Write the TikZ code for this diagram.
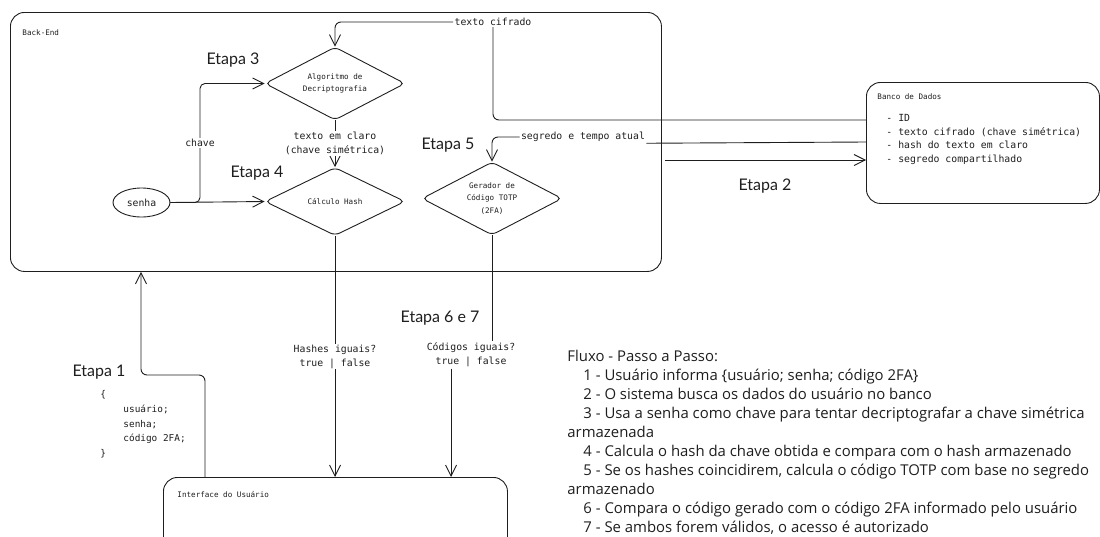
\documentclass[tikz,border=0pt]{standalone}
\usepackage{fontspec}
\setmainfont{Lato}
\setmonofont{DejaVu Sans Mono}
\newfontfamily\fluxfont{Open Sans}
\usetikzlibrary{arrows.meta,shapes.geometric}
\definecolor{ink}{HTML}{1E1E1E}
\begin{document}
\begin{tikzpicture}[x=1pt,y=-1pt,line width=0.9pt,color=ink,
  arr/.style={-{Straight Barb[length=11pt,width=11pt,line width=0.9pt]}},
  box/.style={draw=ink,rounded corners=14pt,anchor=north west,inner sep=0pt},
  dia/.style={draw=ink,shape=diamond,rounded corners=5pt,aspect=2,minimum width=140pt,
    minimum height=73pt,inner sep=0pt,align=center,text=ink,font=\ttfamily\fontsize{7.6}{12.5}\selectfont},
  small/.style={text=ink,inner sep=0pt,font=\ttfamily\fontsize{7.6}{10}\selectfont},
  lab/.style={text=ink,inner sep=1pt,align=center,font=\ttfamily\fontsize{9.8}{14}\selectfont},
  etapa/.style={text=ink,inner sep=0pt,font=\fontsize{16}{18}\selectfont},
  flux/.style={text=ink,inner sep=0pt,anchor=base west,font=\fluxfont\fontsize{14.9}{18}\selectfont}]
\useasboundingbox (0,0) rectangle (1100,536);
\clip (0,0) rectangle (1100,536);

% containers
\node[box,minimum width=651pt,minimum height=259pt] (be) at (10,12) {};
\node[small,anchor=west] (belab) at (22,33) {Back-End};
\node[box,minimum width=233pt,minimum height=121pt] (db) at (866,82) {};
\node[small,anchor=west] (dblab) at (877,97) {Banco de Dados};
\node[lab,anchor=north west,align=left,inner sep=0pt,font=\ttfamily\fontsize{9.8}{13.7}\selectfont] (dblist) at (886,114)
  {- ID\\- texto cifrado (chave simétrica)\\- hash do texto em claro\\- segredo compartilhado};
\node[box,minimum width=344pt,minimum height=80pt] (ui) at (163,477) {};
\node[small,anchor=west] (uilab) at (177,495) {Interface do Usuário};

% inner nodes
\node[dia] (d1) at (335,83.5) {Algoritmo de\\Decriptografia};
\node[dia,minimum height=68pt] (d2) at (335,201.5) {Cálculo Hash};
\node[dia] (d3) at (492,198.5) {Gerador de\\Código TOTP\\(2FA)};
\node[draw=ink,ellipse,minimum width=57pt,minimum height=29pt,inner sep=0pt,lab] (senha) at (141.5,202.5) {senha};

% etapas
\node[etapa] (e1) at (99,372) {Etapa 1};
\node[etapa] (e2) at (765,186) {Etapa 2};
\node[etapa] (e3) at (233,60) {Etapa 3};
\node[etapa] (e4) at (257,173) {Etapa 4};
\node[etapa] (e5) at (448,145) {Etapa 5};
\node[etapa] (e67) at (440,318) {Etapa 6 e 7};

% connectors
\draw[arr] (senha.east) -- (d2.west);
\draw[arr,rounded corners=5pt] (senha.east) -- (200,202.5) |- (d1.west)
  node[lab,pos=0.25,fill=white] {chave};
\node[lab,fill=white] (tc) at (493,22) {texto cifrado};
\draw[rounded corners=6pt] (db.west |- 0,120) -| (tc.south);
\draw[arr,rounded corners=6pt] (tc.west) -| (d1.north);
\draw[arr] (d1.south) -- (d2.north)
  node[lab,midway,fill=white] {texto em claro\\(chave simétrica)};
\node[lab] (sg) at (583,137) {segredo e tempo atual};
\draw (db.west |- 0,142) -- (sg.south east);
\draw[arr,rounded corners=6pt] (sg.west) -| (d3.north);
\draw[arr] ([xshift=3pt]be.east |- 0,160) -- (db.west |- 0,160);
\draw[arr] (d2.south) -- (d2.south |- ui.north)
  node[lab,pos=0.5,fill=white] {Hashes iguais?\\true | false};
\node[lab,fill=white] (ci) at (471,355) {Códigos iguais?\\true | false};
\draw (d3.south) -- (d3.south |- ci.north);
\draw[arr] (ci.south -| 451,0) -- (ui.north -| 451,0);
\draw[arr,rounded corners=6pt] (ui.north -| 205,0) -- (205,375) -- (141,375) -- (be.south -| 141,0);

% request body
\node[lab,anchor=north west,align=left,inner sep=0pt,font=\ttfamily\fontsize{9.4}{14.8}\selectfont] (body) at (100,390)
  {\{\\\hspace*{23pt}usuário;\\\hspace*{23pt}senha;\\\hspace*{23pt}código 2FA;\\\}};

% step-by-step
\node[flux] (f0) at (567,361) {Fluxo - Passo a Passo:};
\node[flux] (f1) at (583,380.1) {1 - Usuário informa \{usuário; senha; código 2FA\}};
\node[flux] (f2) at (583,399.2) {2 - O sistema busca os dados do usuário no banco};
\node[flux] (f3) at (583,418.3) {3 - Usa a senha como chave para tentar decriptografar a chave simétrica};
\node[flux] (f3b) at (567,437.4) {armazenada};
\node[flux] (f4) at (583,456.5) {4 - Calcula o hash da chave obtida e compara com o hash armazenado};
\node[flux] (f5) at (583,475.6) {5 - Se os hashes coincidirem, calcula o código TOTP com base no segredo};
\node[flux] (f5b) at (567,494.7) {armazenado};
\node[flux] (f6) at (583,513.8) {6 - Compara o código gerado com o código 2FA informado pelo usuário};
\node[flux] (f7) at (583,532.6) {7 - Se ambos forem válidos, o acesso é autorizado};
\end{tikzpicture}
\end{document}
